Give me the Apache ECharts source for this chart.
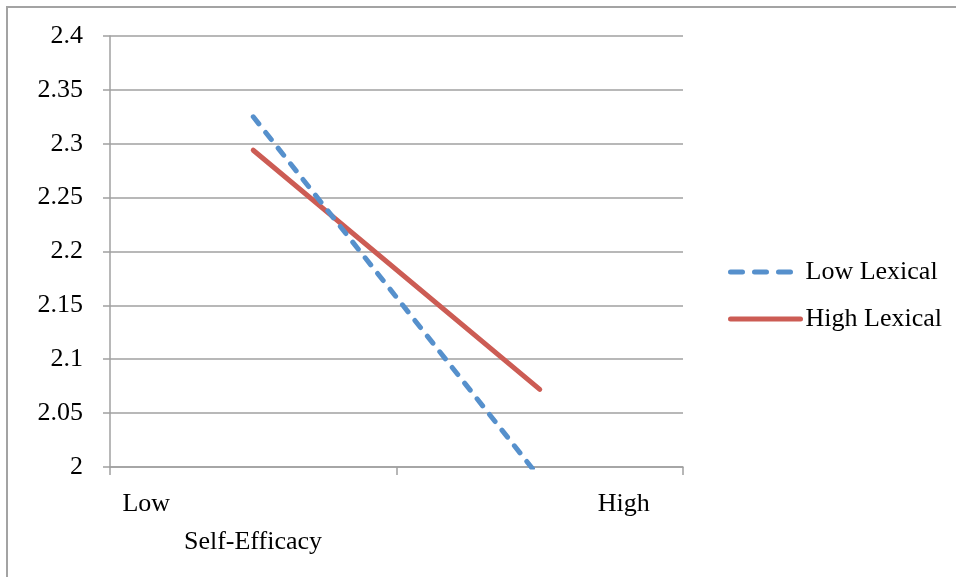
<!DOCTYPE html>
<html>
<head>
<meta charset="utf-8">
<title>Self-Efficacy × Lexical</title>
<script src="https://cdn.jsdelivr.net/npm/echarts@6/dist/echarts.min.js"></script>
<style>
  html, body { margin: 0; padding: 0; background: #fff; }
  #chart { width: 956px; height: 577px; }
</style>
</head>
<body>
<div id="chart"></div>
<script>
// Interaction plot: self-efficacy (low/high) by lexical group
const categories = ['Low', 'High'];
const lowLexical = [2.325, 1.99];
const highLexical = [2.294, 2.072];
const seriesNames = ['Low Lexical', 'High Lexical'];
const axisTitle = 'Self-Efficacy';

const FONT = 'Liberation Serif';
const BLUE = '#5690cc';
const RED = '#cc5c54';
const GRIDGRAY = '#a0a0a0';
const LINE_W = 5;

const chart = echarts.init(document.getElementById('chart'), null, { renderer: 'canvas' });

chart.setOption({
  backgroundColor: '#fff',
  animation: false,
  textStyle: { fontFamily: FONT, color: '#000' },
  graphic: [{
    type: 'rect',
    shape: { x: 7, y: 7, width: 970, height: 600 },
    style: { fill: 'none', stroke: '#a3a3a3', lineWidth: 2 },
    silent: true
  }],
  grid: { left: 110, top: 36, right: 273, bottom: 110, containLabel: false },
  legend: {
    orient: 'vertical',
    left: 723,
    top: 254,
    itemWidth: 70,
    itemHeight: 26,
    itemGap: 21,
    textStyle: { fontFamily: FONT, fontSize: 26, color: '#000' },
    data: [
      { name: seriesNames[0],
        itemStyle: { opacity: 0 },
        lineStyle: { width: LINE_W, type: [12, 12], cap: 'round', color: BLUE } },
      { name: seriesNames[1],
        itemStyle: { opacity: 0 },
        lineStyle: { width: LINE_W, type: 'solid', cap: 'round', color: RED } }
    ]
  },
  xAxis: {
    type: 'category',
    data: categories,
    boundaryGap: true,
    axisLine: { show: true, lineStyle: { color: GRIDGRAY, width: 1.5 } },
    axisTick: { show: true, length: 8, inside: false, lineStyle: { color: GRIDGRAY, width: 1.5 } },
    axisLabel: {
      margin: 24,
      formatter: (v, i) => (i === 0 ? '{a|' + v + '}' : '{b|' + v + '}'),
      rich: {
        a: { fontFamily: FONT, fontSize: 26, color: '#000', padding: [0, 214, 0, 0] },
        b: { fontFamily: FONT, fontSize: 26, color: '#000', padding: [0, 0, 0, 168] }
      }
    },
    splitLine: { show: false },
    name: axisTitle,
    nameLocation: 'middle',
    nameGap: 62,
    nameTextStyle: { fontFamily: FONT, fontSize: 26, color: '#000', padding: [0, 287, 0, 0] }
  },
  yAxis: {
    type: 'value',
    min: 2,
    max: 2.4,
    interval: 0.05,
    axisLine: { show: true, lineStyle: { color: GRIDGRAY, width: 1.5 } },
    axisTick: { show: true, length: 7, inside: false, lineStyle: { color: GRIDGRAY, width: 1.5 } },
    axisLabel: { margin: 27, fontFamily: FONT, fontSize: 26, color: '#000' },
    splitLine: { show: true, lineStyle: { color: GRIDGRAY, width: 1.5 } }
  },
  series: [
    {
      name: seriesNames[0],
      type: 'line',
      data: lowLexical,
      symbol: 'none',
      clip: true,
      lineStyle: { color: BLUE, width: LINE_W, type: [9, 11], cap: 'round' },
      itemStyle: { color: BLUE },
      z: 3
    },
    {
      name: seriesNames[1],
      type: 'line',
      data: highLexical,
      symbol: 'none',
      clip: true,
      lineStyle: { color: RED, width: LINE_W, type: 'solid', cap: 'round' },
      itemStyle: { color: RED },
      z: 2
    }
  ]
});
</script>
</body>
</html>
